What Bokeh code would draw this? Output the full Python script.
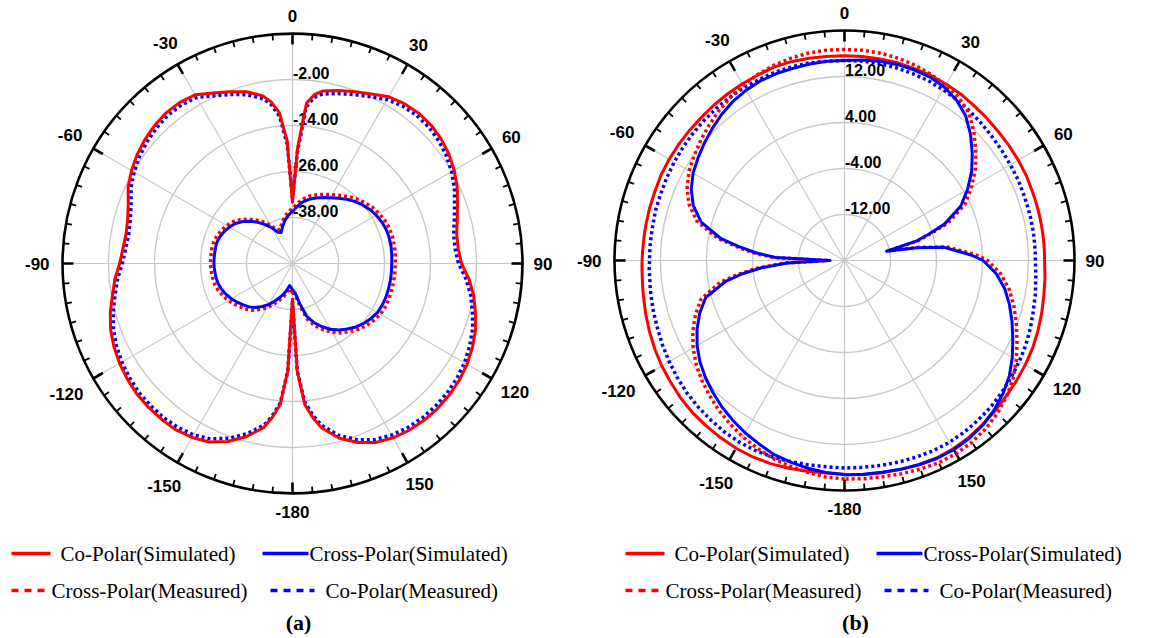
import numpy as np
from bokeh.plotting import figure
from bokeh.models import Range1d
from bokeh.embed import file_html
from bokeh.resources import INLINE
from bokeh.core.properties import value

# ---------------- data ----------------
ANG_A = [-180, -177.5, -175, -172.5, -170, -165, -160, -155, -150, -145, -140, -135, -130, -125,
         -120, -115, -110, -105, -100, -95, -90, -85, -80, -75, -70, -65, -60, -55, -50, -45,
         -40, -35, -30, -25, -20, -15, -10, -7.5, -5, -2.5, 0, 2.5, 5, 7.5, 10, 15, 20, 25, 30,
         35, 40, 45, 50, 55, 60, 65, 70, 75, 80, 85, 90, 95, 100, 105, 110, 115, 120, 125, 130,
         135, 140, 145, 150, 155, 160, 165, 170, 172.5, 175, 177.5, 180]

A_CO_SIM = [-41, -22, -13, -9.5, -6.5, -3.2, -0.6, 1.4, 2.4, 3.0, 3.1, 3.1, 3.0, 2.6,
            2.1, 1.4, 0.5, -0.8, -2.3, -3.5, -4.9, -5.6, -5.9, -5.5, -4.4, -2.7, -1.5, -0.5, 0.3, 0.9,
            1.3, 1.3, 0.8, -0.9, -2.3, -3.6, -5.6, -7.5, -10.5, -18, -34, -20, -8, -5.5, -4.3, -3.3, -2.3, -1.2, 0.2,
            0.9, 1.2, 1.1, 0.6, -0.2, -1.3, -2.6, -4.2, -5.5, -6.5, -6.6, -5.9, -3.8, -2.0, -0.6, 0.8, 1.8, 2.6, 3.1, 3.4,
            3.5, 3.4, 3.1, 2.5, 1.5, -0.3, -2.8, -6.5, -9.5, -13, -22, -41]

A_CO_MEAS = [-40, -22, -13.5, -10, -7.2, -4.0, -1.5, 0.5, 1.6, 2.2, 2.4, 2.4, 2.3, 1.9,
             1.4, 0.7, -0.3, -1.6, -3.0, -4.2, -5.6, -6.3, -6.6, -6.2, -5.2, -3.5, -2.3, -1.3, -0.5, 0.1,
             0.5, 0.5, 0.0, -1.7, -3.1, -4.4, -6.4, -8.3, -11.5, -19, -33, -21, -9, -6.3, -5.1, -4.1, -3.1, -2.0, -0.6,
             0.1, 0.4, 0.3, -0.2, -1.0, -2.1, -3.4, -5.0, -6.3, -7.3, -7.4, -6.7, -4.6, -2.8, -1.4, 0.0, 1.0, 1.8, 2.3, 2.6,
             2.7, 2.6, 2.3, 1.7, 0.7, -1.1, -3.6, -7.3, -10.3, -13.8, -22, -40]

A_CROSS_SIM = [-43.2, -43.6, -44.0, -44.2, -43.5, -42.0, -40.7, -39.2, -37.7, -36.3, -35.0, -34.0, -33.2, -32.4,
               -31.6, -30.9, -30.3, -29.9, -29.7, -29.6, -29.5, -29.5, -29.5, -29.5, -29.8, -30.3, -31.0, -31.8, -33.0, -34.4,
               -36.0, -37.6, -39.3, -41.0, -41.4, -40.0, -38.6, -38.0, -37.4, -36.9, -36.5, -35.8, -35.0, -34.3, -33.6, -32.6, -31.8, -31.0, -30.2,
               -29.2, -28.1, -27.1, -26.2, -25.4, -24.8, -24.3, -24.0, -23.9, -23.9, -24.0, -24.1, -24.1, -24.1, -24.1, -24.1, -24.2, -24.4, -25.0, -25.7,
               -26.6, -27.7, -28.8, -30.2, -31.8, -33.6, -35.8, -39.5, -41.2, -42.3, -42.8, -43.2]

A_CROSS_MEAS = [-42.5, -42.8, -43.2, -43.4, -42.6, -41.0, -39.7, -38.2, -36.7, -35.4, -34.1, -33.1, -32.3, -31.5,
                -30.7, -30.0, -29.4, -29.0, -28.8, -28.7, -28.6, -28.6, -28.6, -28.7, -29.0, -29.5, -30.2, -31.0, -32.2, -33.6,
                -35.2, -36.8, -38.5, -40.2, -40.6, -39.2, -37.8, -37.2, -36.6, -36.1, -35.7, -35.0, -34.2, -33.5, -32.8, -31.7, -30.9, -30.1, -29.3,
                -28.3, -27.2, -26.2, -25.3, -24.5, -23.9, -23.4, -23.1, -23.0, -23.0, -23.1, -23.2, -23.2, -23.2, -23.2, -23.2, -23.3, -23.5, -24.1, -24.8,
                -25.7, -26.8, -27.9, -29.3, -30.9, -32.7, -34.9, -38.6, -40.4, -41.5, -42.1, -42.5]

ANG_B = [-180, -175, -170, -165, -160, -155, -150, -145, -140, -135, -130, -125, -120, -115, -110, -105, -100,
         -97.5, -95, -92.5, -90, -87.5, -85, -82.5, -80,
         -75, -70, -65, -60, -55, -50, -45, -40, -35, -30, -25, -20, -15, -10, -5, 0, 5, 10, 15, 20, 25, 30,
         35, 40, 45, 50, 55, 60, 65, 70,
         72.5, 75, 77.5, 80, 82.5, 85, 87.5, 90,
         95, 100, 105, 110, 115, 120, 125, 130, 135, 140, 145, 150, 155, 160, 165, 170, 175, 180]

B_CO_SIM = [17.2, 17.1, 17.2, 17.4, 17.6, 17.7, 17.7, 17.6, 17.5, 17.4, 17.2, 16.9, 16.7, 16.4, 16.1, 15.8, 15.5,
            15.4, 15.3, 15.25, 15.2, 15.15, 15.1, 15.1, 15.1,
            15.1, 15.1, 15.2, 15.2, 15.2, 15.2, 15.2, 15.3, 15.4, 15.5, 15.6, 15.8, 15.8, 15.7, 15.6, 15.6, 15.6, 15.6, 15.6, 15.5, 15.5, 15.4,
            15.3, 15.1, 15.0, 14.9, 14.9, 14.9, 14.9, 14.8,
            14.8, 14.8, 14.8, 14.8, 14.8, 14.8, 14.8, 14.8,
            15.0, 15.2, 15.5, 15.8, 16.1, 16.3, 16.5, 16.7, 17.0, 17.3, 17.6, 17.8, 17.9, 17.8, 17.6, 17.5, 17.4, 17.2]

B_CO_MEAS = [16.1, 16.0, 16.1, 16.2, 16.4, 16.5, 16.5, 16.4, 16.2, 16.0, 15.8, 15.5, 15.2, 14.9, 14.6, 14.4, 14.2,
             14.1, 14.0, 14.0, 13.9, 13.9, 13.9, 13.9, 13.9,
             14.0, 14.0, 14.1, 14.2, 14.3, 14.4, 14.5, 14.6, 14.7, 14.8, 14.8, 14.9, 14.9, 14.9, 14.8, 14.8, 14.8, 14.8, 14.7, 14.6, 14.5, 14.3,
             14.1, 13.9, 13.7, 13.5, 13.4, 13.3, 13.3, 13.2,
             13.2, 13.2, 13.2, 13.2, 13.2, 13.2, 13.2, 13.2,
             13.4, 13.7, 14.0, 14.4, 14.8, 15.1, 15.4, 15.7, 16.0, 16.2, 16.4, 16.5, 16.5, 16.4, 16.3, 16.2, 16.1, 16.1]

B_CROSS_SIM = [17.2, 17.0, 16.7, 16.3, 15.9, 15.2, 14.6, 13.9, 13.2, 12.4, 11.6, 10.7, 9.6, 8.3, 6.8, 5.0, 1.0,
               -2.0, -5.5, -10.0, -17.5, -8.0, -4.5, -1.5, 1.8,
               5.8, 8.0, 9.4, 10.4, 11.1, 11.8, 12.5, 13.2, 13.8, 14.2, 14.5, 14.6, 14.6, 14.7, 14.8, 14.8, 15.0, 15.2, 15.3, 15.3, 15.2, 14.8,
               14.0, 12.8, 11.0, 9.0, 7.0, 4.7, 2.3, -1.5,
               -4.5, -7.2, -12.5, -7.2, -2.5, -0.5, 2.0, 4.1,
               6.5, 8.3, 9.7, 11.0, 12.3, 13.7, 15.0, 16.0, 16.8, 17.4, 17.8, 18.0, 18.0, 17.8, 17.6, 17.4, 17.3, 17.3]

B_CROSS_MEAS = [18.0, 17.8, 17.4, 17.0, 16.6, 16.0, 15.4, 14.7, 14.0, 13.2, 12.4, 11.5, 10.4, 9.1, 7.6, 5.8, 2.0,
                -1.2, -4.8, -9.5, -17.0, -7.5, -3.8, -0.8, 2.5,
                6.6, 8.8, 10.2, 11.2, 11.9, 12.6, 13.3, 14.0, 14.6, 15.2, 15.7, 16.1, 16.4, 16.6, 16.7, 16.7, 16.7, 16.6, 16.4, 16.1, 15.7, 15.2,
                14.6, 13.6, 11.8, 9.8, 7.8, 5.5, 3.1, -0.8,
                -4.0, -6.8, -12.0, -6.8, -2.0, 0.2, 2.8, 4.9,
                7.3, 9.1, 10.5, 11.8, 13.1, 14.5, 15.8, 16.8, 17.6, 18.2, 18.6, 18.8, 18.8, 18.6, 18.4, 18.2, 18.1, 18.0]

ANGLE_TICK_VALUES = [0, 30, 60, 90, 120, 150, 180, -150, -120, -90, -60, -30]
ANGLE_TICK_LABELS = ["0", "30", "60", "90", "120", "150", "-180", "-150", "-120", "-90", "-60", "-30"]

A_DB_MIN, A_DB_MAX = -50, 10
A_RING_DB = [-38, -26, -14, -2]
A_RING_LABELS = ["-38.00", "-26.00", "-14.00", "-2.00"]

B_DB_MIN, B_DB_MAX = -20, 20
B_RING_DB = [-12, -4, 4, 12]
B_RING_LABELS = ["-12.00", "-4.00", "4.00", "12.00"]

LEGEND_NAMES = ["Co-Polar(Simulated)", "Cross-Polar(Simulated)", "Cross-Polar(Measured)", "Co-Polar(Measured)"]
CAPTIONS = ["(a)", "(b)"]

# ---------------- layout ----------------
W, H = 1153, 638
R_PX = 230.0
RED = "#ff0000"
BLUE = "#0000ff"
GRID = "#c8c8c8"

p = figure(width=W, height=H, x_range=Range1d(0, W), y_range=Range1d(H, 0),
           output_backend="svg", toolbar_location=None, min_border=0,
           x_axis_location=None, y_axis_location=None, outline_line_color=None,
           background_fill_color="white", border_fill_color="white")
p.xgrid.visible = False
p.ygrid.visible = False


def polar_xy(ang, db, dbmin):
    a = np.radians(np.asarray(ang, dtype=float))
    r = np.clip(np.asarray(db, dtype=float) - dbmin, 0, None)
    return r * np.sin(a), r * np.cos(a)


def polar_panel(name, cx, cy, dbmin, dbmax, ring_db, ring_labels, series):
    span = dbmax - dbmin
    k = R_PX / span  # px per dB
    xr, yr = name + "x", name + "y"
    p.extra_x_ranges[xr] = Range1d(-cx / k, (W - cx) / k)
    p.extra_y_ranges[yr] = Range1d(-(H - cy) / k, cy / k)
    kw = dict(x_range_name=xr, y_range_name=yr)

    # grid circles
    radii = [d - dbmin for d in ring_db]
    p.circle(x=[0] * len(radii), y=[0] * len(radii), radius=radii, fill_color=None,
             line_color=GRID, line_width=1.4, **kw)
    # spokes every 30 deg
    sp = np.radians(np.arange(0, 360, 30))
    p.segment(x0=np.zeros(len(sp)), y0=np.zeros(len(sp)), x1=span * np.sin(sp), y1=span * np.cos(sp),
              line_color=GRID, line_width=1.2, **kw)
    # outer ring
    p.circle(x=[0], y=[0], radius=[span], fill_color=None, line_color="black", line_width=2.6, **kw)
    # ticks
    tk = np.arange(0, 360, 5)
    ln = np.where(tk % 30 == 0, 11.0, 6.0) / k
    wd = np.where(tk % 30 == 0, 2.6, 1.8)
    t = np.radians(tk)
    p.segment(x0=span * np.sin(t), y0=span * np.cos(t), x1=(span - ln) * np.sin(t), y1=(span - ln) * np.cos(t),
              line_color="black", line_width=wd, **kw)
    # angle labels
    lx, ly = [], []
    for v, lab in zip(ANGLE_TICK_VALUES, ANGLE_TICK_LABELS):
        a = np.radians(v)
        wpx = 9.5 * len(lab)
        rl = R_PX + 11 + 0.5 * wpx * abs(np.sin(a)) + 7 * abs(np.cos(a))
        lx.append(rl * np.sin(a) / k)
        ly.append(rl * np.cos(a) / k)
    p.text(x=lx, y=ly, text=ANGLE_TICK_LABELS, text_align="center", text_baseline="middle",
           text_font=value("Liberation Sans"), text_font_style="bold", text_font_size="17px",
           text_color="black", **kw)
    # radial labels
    p.text(x=[0.5 / k] * len(radii), y=[r + 7 / k for r in radii], text=ring_labels,
           text_align="left", text_baseline="middle", text_font=value("Liberation Sans"),
           text_font_style="bold", text_font_size="16px", text_color="black", **kw)
    # curves
    for ang, db, color, dash, lw in series:
        x, y = polar_xy(ang, db, dbmin)
        p.line(x=x, y=y, line_color=color, line_width=lw, line_dash=dash, line_join="round", **kw)


polar_panel("a", 292, 263, A_DB_MIN, A_DB_MAX, A_RING_DB, A_RING_LABELS, [
    (ANG_A, A_CO_MEAS, BLUE, "3 3", 3.5),
    (ANG_A, A_CROSS_MEAS, RED, "3 3", 3.5),
    (ANG_A, A_CO_SIM, RED, "solid", 3.0),
    (ANG_A, A_CROSS_SIM, BLUE, "solid", 3.0),
])
polar_panel("b", 844, 260, B_DB_MIN, B_DB_MAX, B_RING_DB, B_RING_LABELS, [
    (ANG_B, B_CO_MEAS, BLUE, "3 3", 3.5),
    (ANG_B, B_CROSS_MEAS, RED, "3 3", 3.5),
    (ANG_B, B_CO_SIM, RED, "solid", 3.0),
    (ANG_B, B_CROSS_SIM, BLUE, "solid", 3.0),
])

# ---------------- legends (pixel-like default ranges) ----------------
def legend_block(x0):
    # row 1
    p.segment(x0=[x0 + 11], y0=[553], x1=[x0 + 50], y1=[553], line_color=RED, line_width=3.5)
    p.segment(x0=[x0 + 262], y0=[553], x1=[x0 + 308], y1=[553], line_color=BLUE, line_width=3.5)
    # row 2
    p.segment(x0=[x0 + 11], y0=[590], x1=[x0 + 50], y1=[590], line_color=RED, line_width=3.5, line_dash="7 6")
    p.segment(x0=[x0 + 270], y0=[590], x1=[x0 + 314], y1=[590], line_color=BLUE, line_width=3.5, line_dash="7 6")
    p.text(x=[x0 + 60, x0 + 309, x0 + 51, x0 + 325], y=[553, 553, 590, 590], text=LEGEND_NAMES,
           text_align="left", text_baseline="middle", text_font=value("Liberation Serif"),
           text_font_size="21px", text_color="black")


legend_block(0)
legend_block(614)
p.text(x=[298, 855], y=[622, 622], text=CAPTIONS, text_align="center", text_baseline="middle",
       text_font=value("Liberation Serif"), text_font_style="bold", text_font_size="22px", text_color="black")

open("out.html", "w").write(file_html(p, INLINE))
